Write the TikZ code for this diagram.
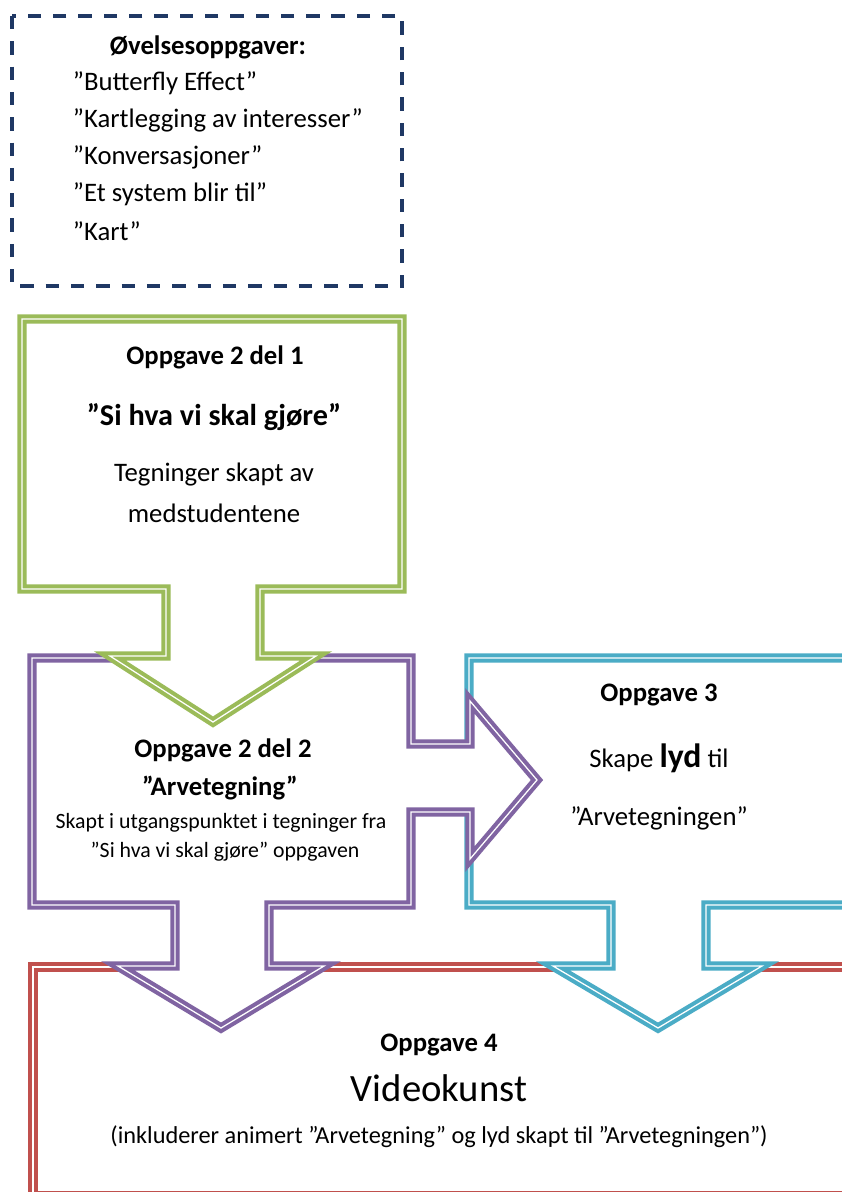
\documentclass[tikz,border=0pt]{standalone}
\usepackage{fontspec}
\setmainfont{Carlito}
\definecolor{OvelseNavy}{HTML}{1F3864}
\definecolor{OppgGreen}{HTML}{9BBB59}
\definecolor{OppgPurple}{HTML}{8064A2}
\definecolor{OppgBlue}{HTML}{4BACC6}
\definecolor{OppgRed}{HTML}{C0504D}

\begin{document}
\begin{tikzpicture}[x=0.025cm, y=-0.025cm,
    callout/.style={draw=#1, fill=white, line width=2.9pt, double=white, double distance=0.9pt},
    title/.style={font=\fontsize{19}{23}\selectfont\bfseries},
    body/.style={font=\fontsize{19}{23}\selectfont},
    smallbody/.style={font=\fontsize{15.5}{19}\selectfont}]
    \useasboundingbox (0,0) rectangle (842,1192);

    % Oppgave 4 (red box, runs off the page)
    \draw[callout=OppgRed] (33,967) -- (880,967) -- (880,1196) -- (33,1196) -- cycle;

    % Oppgave 3 (blue callout, arrow down)
    \draw[callout=OppgBlue] (469,658) -- (880,658) -- (880,905) -- (706,905) -- (706,966)
        -- (762,966) -- (658,1028) -- (553,966) -- (611,966) -- (611,905) -- (469,905) -- cycle;

    % Oppgave 2 del 2 (purple callout, arrows right and down)
    \draw[callout=OppgPurple] (32,658) -- (411,658) -- (411,744) -- (470,744) -- (470,701)
        -- (537,780) -- (470,859) -- (470,812) -- (411,812) -- (411,905) -- (269,905)
        -- (269,966) -- (324,966) -- (221,1028) -- (118,966) -- (175,966) -- (175,905)
        -- (32,905) -- cycle;

    % Oppgave 2 del 1 (green callout, arrow down)
    \draw[callout=OppgGreen] (22,319) -- (402,319) -- (402,589) -- (260,589) -- (260,656)
        -- (316,656) -- (213,722) -- (110,656) -- (166,656) -- (166,589) -- (22,589) -- cycle;

    % Oevelsesoppgaver
    \draw[OvelseNavy, line width=3.2pt, dash pattern=on 9.5pt off 8.5pt] (12,16) rectangle (402,286);
    \node[title] (ovTitle) at (208,47) {Øvelsesoppgaver:};
    \foreach \i/\txt in {0/{”Butterfly Effect”}, 1/{”Kartlegging av interesser”}, 2/{”Konversasjoner”},
                         3/{”Et system blir til”}, 4/{”Kart”}} {
        \node[body, anchor=west] (ov\i) at (68, 83+37*\i) {\txt};
    }

    % texts
    \node[title] (g1) at (215,357) {Oppgave 2 del 1};
    \node[font=\fontsize{21.5}{26}\selectfont\bfseries] (g2) at (214,417) {”Si hva vi skal gjøre”};
    \node[body] (g3) at (214,475) {Tegninger skapt av};
    \node[body] (g4) at (214,513) {medstudentene};

    \node[title] (p1) at (223,750) {Oppgave 2 del 2};
    \node[title] (p2) at (220,788) {”Arvetegning”};
    \node[smallbody] (p3) at (221,823) {Skapt i utgangspunktet i tegninger fra};
    \node[smallbody] (p4) at (225,852) {”Si hva vi skal gjøre” oppgaven};

    \node[title] (b1) at (659,695) {Oppgave 3};
    \node[body] (b2) at (659,758) {Skape {\fontsize{24}{28}\selectfont\bfseries lyd} til};
    \node[body] (b3) at (659,818) {”Arvetegningen”};

    \node[title] (r1) at (439,1045) {Oppgave 4};
    \node[font=\fontsize{27.5}{32}\selectfont] (r2) at (439,1088) {Videokunst};
    \node[font=\fontsize{17.3}{20}\selectfont] (r3) at (439,1137) {(inkluderer animert ”Arvetegning” og lyd skapt til ”Arvetegningen”)};
\end{tikzpicture}
\end{document}
